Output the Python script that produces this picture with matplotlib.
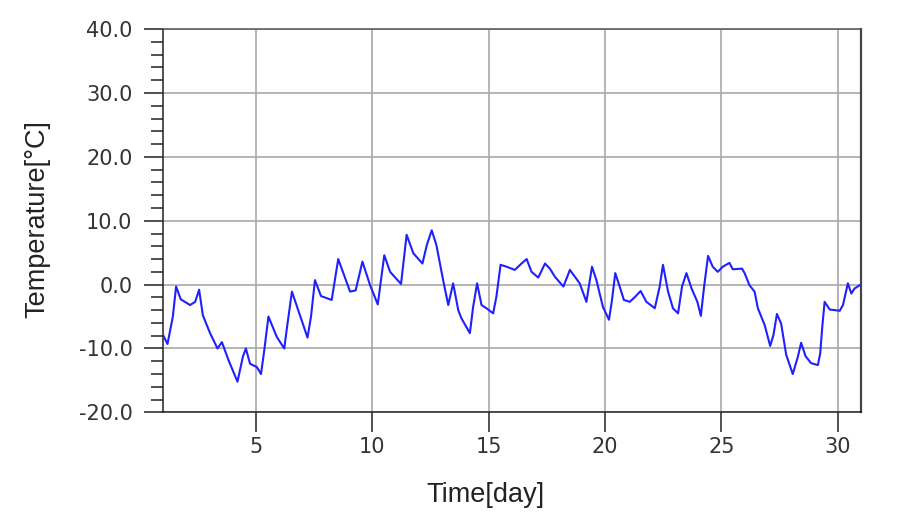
import matplotlib
matplotlib.use("Agg")
import matplotlib.pyplot as plt
from matplotlib.ticker import MultipleLocator, FormatStrFormatter

# Data (day, temperature in degC)
days = [1.00, 1.19, 1.42, 1.56, 1.76, 2.16, 2.38, 2.55, 2.71, 3.02, 3.34, 3.53,
        3.81, 4.20, 4.43, 4.56, 4.74, 5.03, 5.21, 5.35, 5.53, 5.89, 6.21, 6.32,
        6.54, 6.81, 7.21, 7.36, 7.53, 7.79, 8.25, 8.53, 9.04, 9.28, 9.57, 9.90,
        10.23, 10.51, 10.76, 11.23, 11.47, 11.76, 12.15, 12.34, 12.55, 12.75,
        13.04, 13.26, 13.47, 13.69, 13.83, 14.19, 14.33, 14.50, 14.69, 14.90,
        15.19, 15.33, 15.51, 15.77, 16.12, 16.41, 16.63, 16.84, 17.13, 17.42,
        17.63, 17.85, 18.21, 18.49, 18.71, 18.91, 19.20, 19.44, 19.63, 19.91,
        20.17, 20.30, 20.44, 20.63, 20.81, 21.06, 21.27, 21.53, 21.78, 22.14,
        22.35, 22.49, 22.71, 22.92, 23.14, 23.31, 23.50, 23.72, 23.97, 24.12,
        24.26, 24.43, 24.63, 24.85, 25.06, 25.35, 25.49, 25.89, 26.00, 26.21,
        26.43, 26.57, 26.86, 27.10, 27.24, 27.39, 27.57, 27.79, 28.07, 28.29,
        28.43, 28.62, 28.86, 29.15, 29.25, 29.34, 29.44, 29.66, 30.09, 30.23,
        30.44, 30.59, 30.73, 30.95]
temps = [-7.9, -9.3, -5.0, -0.3, -2.3, -3.2, -2.7, -0.8, -4.8, -7.6, -10.0, -9.0,
         -11.8, -15.2, -11.3, -10.0, -12.4, -12.9, -14.0, -10.3, -5.0, -8.2, -10.0, -6.9,
         -1.1, -4.0, -8.3, -5.0, 0.7, -1.8, -2.4, 4.0, -1.1, -0.9, 3.6, -0.1,
         -3.1, 4.6, 2.0, 0.1, 7.8, 4.9, 3.3, 6.2, 8.5, 6.2,
         0.7, -3.2, 0.2, -4.0, -5.3, -7.6, -3.5, 0.2, -3.2, -3.7,
         -4.5, -1.9, 3.1, 2.8, 2.3, 3.3, 4.0, 2.0, 1.1, 3.3,
         2.5, 1.2, -0.3, 2.3, 1.2, 0.2, -2.7, 2.8, 0.7, -3.5,
         -5.5, -2.4, 1.8, -0.3, -2.4, -2.7, -2.0, -1.0, -2.7, -3.7,
         -0.3, 3.1, -1.1, -3.7, -4.5, -0.3, 1.8, -0.6, -2.7, -4.9,
         -0.3, 4.5, 2.8, 2.0, 2.8, 3.4, 2.4, 2.5, 1.8, -0.1,
         -1.1, -3.7, -6.3, -9.6, -7.9, -4.6, -6.1, -11.0, -14.0, -11.3,
         -9.1, -11.2, -12.3, -12.6, -10.8, -6.6, -2.7, -3.9, -4.1, -3.2,
         0.2, -1.4, -0.6, -0.1]

x_ticks = [5, 10, 15, 20, 25, 30]
y_ticks = [-20, -10, 0, 10, 20, 30, 40]

plt.rcParams['font.family'] = ['Liberation Sans', 'DejaVu Sans']

fig = plt.figure(figsize=(9.11, 5.29), dpi=100)
ax = fig.add_axes([0.179, 0.2205, 0.766, 0.7245])

ax.plot(days, temps, color='#2020ff', lw=1.5, zorder=3, solid_joinstyle='round')

ax.set_xlim(1, 31)
ax.set_ylim(-20, 40)
ax.set_xticks(x_ticks)
ax.set_yticks(y_ticks)
ax.yaxis.set_minor_locator(MultipleLocator(2))
ax.yaxis.set_major_formatter(FormatStrFormatter('%.1f'))

ax.grid(True, which='major', color='#a8a8a8', lw=1.2, zorder=1)

ax.tick_params(axis='y', which='major', direction='out', length=14, width=1.1,
               pad=8, labelsize=15, labelcolor='#333333', color='#222222')
ax.tick_params(axis='y', which='minor', direction='out', length=8.5, width=1.1,
               color='#222222')
ax.tick_params(axis='x', which='major', direction='out', length=14.5, width=1.1,
               pad=3, labelsize=15, labelcolor='#333333', color='#222222')
for lbl in ax.get_xticklabels() + ax.get_yticklabels():
    lbl.set_family(['DejaVu Sans'])

for side in ['left', 'bottom', 'top', 'right']:
    ax.spines[side].set_color('#222222')
    ax.spines[side].set_linewidth(1.1)
ax.spines['top'].set_color('#555555')
ax.spines['right'].set_color('#444444')
ax.spines['right'].set_linewidth(1.6)

ax.set_xlabel('Time[day]', fontsize=19.5, color='#222222')
ax.set_ylabel('Temperature[°C]', fontsize=19.5, color='#222222')
ax.xaxis.set_label_coords(0.462, -0.182)
ax.yaxis.set_label_coords(-0.161, 0.505)

fig.savefig('out.png', dpi=100, facecolor='white')
